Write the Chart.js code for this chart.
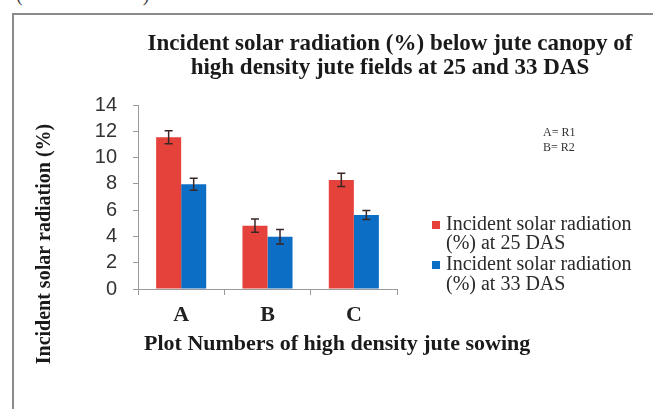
<!DOCTYPE html>
<html lang="en">
<head>
  <meta charset="UTF-8" />
  <title>Incident solar radiation below jute canopy</title>
  <script src="https://cdn.jsdelivr.net/npm/chart.js"></script>
  <style>
    body { margin: 0; padding: 0; background: white; overflow: hidden; }
    .wrap { position: relative; width: 653px; height: 409px; }
    .frame {
      position: absolute; left: 12px; top: 13px; width: 700px; height: 450px;
      border-left: 2px solid #8a8a8a; border-top: 2px solid #8a8a8a;
    }
    .cut {
      position: absolute; left: 16px; top: -17px; font: 20px "Liberation Serif", serif;
      color: #444; white-space: pre;
    }
    canvas { position: absolute; left: 0; top: 0; }
  </style>
</head>
<body>
  <div class="wrap">
    <div class="cut">(                        )</div>
    <div class="frame"></div>
    <canvas id="chart" width="653" height="409"></canvas>
  </div>

  <script>
    // data
    const categories = ['A', 'B', 'C'];
    const das25 = [11.55, 4.82, 8.3];
    const das33 = [7.97, 3.98, 5.63];
    const das25Err = [0.5, 0.5, 0.5];
    const das33Err = [0.45, 0.55, 0.35];
    const seriesNames = [
      ['Incident solar radiation', '(%) at 25 DAS'],
      ['Incident solar radiation', '(%) at 33 DAS']
    ];
    const seriesColors = ['#e5423b', '#0d6ec5'];
    const yMax = 14, yStep = 2;
    const titleLines = ['Incident solar radiation (%) below jute canopy of', 'high density jute fields at 25 and 33 DAS'];
    const xTitle = 'Plot Numbers of high density jute sowing';
    const yTitle = 'Incident solar radiation (%)';
    const notes = ['A= R1', 'B= R2'];

    const serif = '"Liberation Serif", "Times New Roman", serif';

    const decor = {
      id: 'decor',
      afterDatasetsDraw(chart) {
        const { ctx, scales: { y } } = chart;
        chart.data.datasets.forEach((ds, di) => {
          const meta = chart.getDatasetMeta(di);
          meta.data.forEach((bar, i) => {
            const v = ds.data[i], e = ds.errors[i];
            const top = y.getPixelForValue(v + e), bot = y.getPixelForValue(v - e);
            ctx.save();
            ctx.strokeStyle = '#3b2626';
            ctx.lineWidth = 1.5;
            ctx.beginPath();
            ctx.moveTo(bar.x, top); ctx.lineTo(bar.x, bot);
            ctx.moveTo(bar.x - 4, top); ctx.lineTo(bar.x + 4, top);
            ctx.moveTo(bar.x - 4, bot); ctx.lineTo(bar.x + 4, bot);
            ctx.stroke();
            ctx.restore();
          });
        });
      },
      afterDraw(chart) {
        const { ctx } = chart;
        ctx.save();
        ctx.fillStyle = '#1a1a1a';

        // main title
        ctx.font = 'bold 23px ' + serif;
        ctx.textAlign = 'center';
        ctx.textBaseline = 'alphabetic';
        ctx.fillText(titleLines[0], 390, 50);
        ctx.fillText(titleLines[1], 390, 74);

        // x axis title
        ctx.font = 'bold 22px ' + serif;
        ctx.textAlign = 'left';
        ctx.fillText(xTitle, 144, 350);

        // y axis title
        ctx.save();
        ctx.translate(45, 244);
        ctx.rotate(-Math.PI / 2);
        ctx.font = 'bold 20px ' + serif;
        ctx.textAlign = 'center';
        ctx.textBaseline = 'middle';
        ctx.fillText(yTitle, 0, 0);
        ctx.restore();

        // notes
        ctx.font = '12px ' + serif;
        ctx.textBaseline = 'middle';
        ctx.fillStyle = '#333';
        ctx.fillText(notes[0], 543, 133);
        ctx.fillText(notes[1], 543, 148);

        // legend
        ctx.font = '20px ' + serif;
        const rows = [[225, 244], [265, 285]];
        seriesNames.forEach((lines, i) => {
          ctx.fillStyle = seriesColors[i];
          ctx.fillRect(432, rows[i][0] - 4, 8, 8);
          ctx.fillStyle = '#2a2a2a';
          ctx.fillText(lines[0], 446, rows[i][0]);
          ctx.fillText(lines[1], 446, rows[i][1]);
        });
        ctx.restore();
      }
    };

    new Chart(document.getElementById('chart'), {
      type: 'bar',
      data: {
        labels: categories,
        datasets: [
          { label: seriesNames[0].join(' '), data: das25, errors: das25Err, backgroundColor: seriesColors[0] },
          { label: seriesNames[1].join(' '), data: das33, errors: das33Err, backgroundColor: seriesColors[1] }
        ]
      },
      options: {
        responsive: false,
        animation: false,
        datasets: { bar: { categoryPercentage: 0.58, barPercentage: 1.0 } },
        layout: { padding: { left: 0, top: 105, right: 256, bottom: 0 } },
        plugins: { legend: { display: false }, tooltip: { enabled: false } },
        scales: {
          x: {
            grid: { offset: true, drawOnChartArea: false, tickLength: 6, color: '#9a9a9a' },
            border: { color: '#9a9a9a' },
            ticks: { font: { family: serif, size: 22, weight: 'bold' }, color: '#222', padding: 7 },
            afterFit: s => { s.height = 120; }
          },
          y: {
            min: 0, max: yMax,
            grid: { drawOnChartArea: false, tickLength: 5, color: '#9a9a9a' },
            border: { color: '#9a9a9a' },
            ticks: {
              stepSize: yStep, autoSkip: false,
              font: { family: '"Liberation Sans", Arial, sans-serif', size: 20 }, color: '#333', padding: 16
            },
            afterFit: s => { s.width = 138; }
          }
        }
      },
      plugins: [decor]
    });
  </script>
</body>
</html>
